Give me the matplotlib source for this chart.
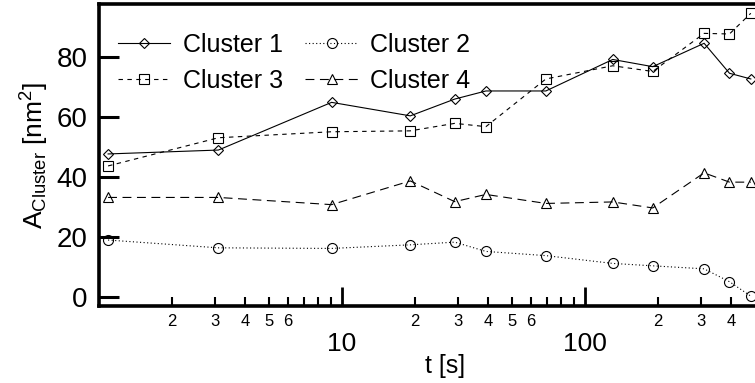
import matplotlib
matplotlib.use("Agg")
import matplotlib.pyplot as plt
from matplotlib.ticker import FixedLocator, FuncFormatter
import numpy as np

plt.rcParams['font.family'] = ['Liberation Sans', 'DejaVu Sans']
plt.rcParams['mathtext.fontset'] = 'custom'
plt.rcParams['mathtext.rm'] = 'Liberation Sans'
plt.rcParams['mathtext.it'] = 'Liberation Sans'

# measurement times [s]
t = [1.09, 3.1, 9.06, 19.1, 29.1, 39.1, 69, 130, 190, 309, 393, 481]

cluster1 = [47.8, 49.1, 65.0, 60.5, 66.1, 68.8, 68.8, 79.3, 76.9, 84.7, 74.7, 72.8]
cluster2 = [19.1, 16.5, 16.3, 17.5, 18.4, 15.3, 13.9, 11.3, 10.5, 9.5, 5.2, 0.4]
cluster3 = [43.8, 53.2, 55.2, 55.5, 58.0, 56.9, 72.8, 77.2, 75.3, 88.0, 87.8, 94.7]
cluster4 = [33.3, 33.3, 30.9, 38.8, 31.9, 34.3, 31.3, 31.8, 29.8, 41.5, 38.4, 38.4]

labels = ["Cluster 1", "Cluster 2", "Cluster 3", "Cluster 4"]

fig = plt.figure(figsize=(7.55, 3.83), dpi=100)
# axes run a bit past the right border, the last points get cut there
ax = fig.add_axes([0.1311, 0.201, 0.9166, 0.7886])

common = dict(color='black', lw=0.8, mfc='none', mec='black', mew=0.8)
l1, = ax.plot(t, cluster1, '-', marker='D', ms=4.6, label=labels[0], **common)
l2, = ax.plot(t, cluster2, marker='o', ms=7.2, linestyle=(0, (1, 2.2)), label=labels[1], **common)
l3, = ax.plot(t, cluster3, marker='s', ms=7.4, linestyle=(0, (4, 4)), label=labels[2], **common)
l4, = ax.plot(t, cluster4, marker='^', ms=7.4, linestyle=(0, (8, 5)), label=labels[3], **common)

ax.set_xscale('log')
ax.set_xlim(1.0, 704)
ax.set_ylim(-2.9, 97.8)

ax.set_yticks([0, 20, 40, 60, 80])
ax.tick_params(axis='y', which='major', direction='in', length=14.5, width=2.2,
               labelsize=20, pad=8)
ax.tick_params(axis='y', which='minor', left=False)

# minor ticks 2..9 per decade, stopping at 400
minor_ticks = [m * d for d in (1, 10, 100) for m in range(2, 10) if m * d <= 400]
ax.xaxis.set_major_locator(FixedLocator([10, 100]))
ax.xaxis.set_minor_locator(FixedLocator(minor_ticks))


def minor_fmt(x, pos):
    m = int(round(x / 10 ** np.floor(np.log10(x) + 1e-9)))
    return str(m) if m in (2, 3, 4, 5, 6) else ""


ax.xaxis.set_minor_formatter(FuncFormatter(minor_fmt))
ax.xaxis.set_major_formatter(FuncFormatter(lambda x, pos: "%d" % x))
ax.tick_params(axis='x', which='major', direction='in', length=14, width=2.0,
               labelsize=19, pad=18.5)
ax.tick_params(axis='x', which='minor', direction='in', length=6.5, width=1.5,
               labelsize=12, pad=6)

for side in ('left', 'bottom', 'top'):
    ax.spines[side].set_linewidth(2.6)
ax.spines['right'].set_visible(False)

ax.set_xlabel('t [s]', fontsize=18, labelpad=-1)
ax.set_ylabel(r'$\mathrm{A}_{\mathrm{Cluster}}$ [nm$^{2}$]', fontsize=19, labelpad=4)

ax.legend([l1, l3, l2, l4], [labels[0], labels[2], labels[1], labels[3]],
          ncol=2, frameon=False, fontsize=18, loc='upper left',
          bbox_to_anchor=(0.027, 0.905), borderaxespad=0, borderpad=0,
          handlelength=2.1, handletextpad=0.5, columnspacing=0.9,
          labelspacing=0.5)

fig.savefig('out.png', dpi=100)
